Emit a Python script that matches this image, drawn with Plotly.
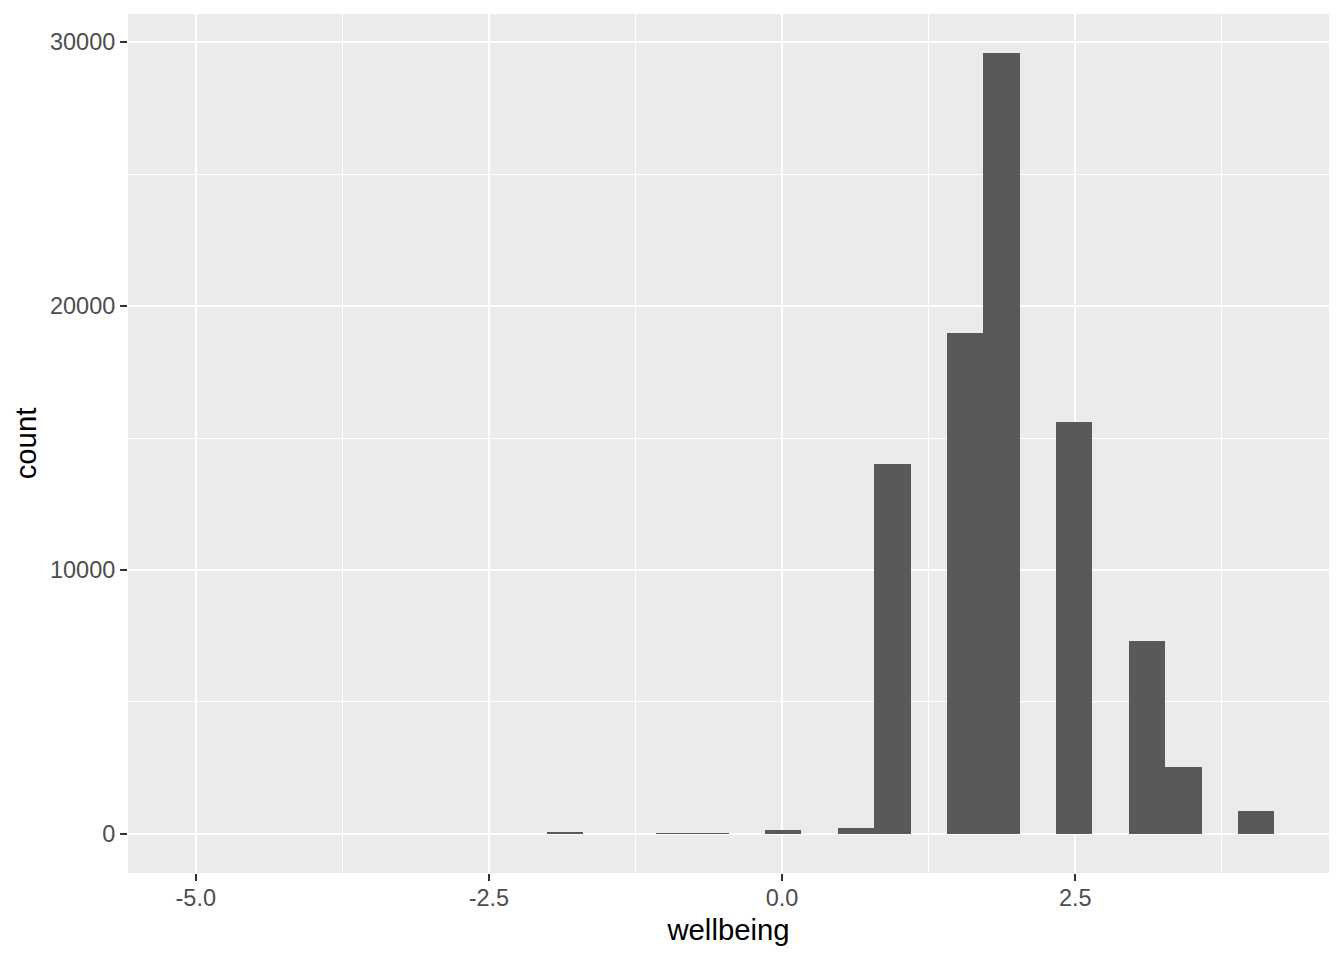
import plotly.graph_objects as go

# histogram of wellbeing: 30 bins, width 9/29
bin_width = 0.31034
bin_centers = [-1.853, -0.923, -0.612, 0.009, 0.629, 0.940,
               1.560, 1.871, 2.491, 3.112, 3.422, 4.043]
counts = [70, 30, 30, 140, 220, 14015,
          18977, 29583, 15606, 7322, 2550, 871]

x_ticks = [-5.0, -2.5, 0.0, 2.5]
x_tick_labels = ["-5.0", "-2.5", "0.0", "2.5"]
y_ticks = [0, 10000, 20000, 30000]
y_tick_labels = ["0", "10000", "20000", "30000"]

FONT = "Liberation Sans, Arial, sans-serif"

fig = go.Figure()
fig.add_trace(
    go.Bar(
        x=bin_centers,
        y=counts,
        width=[bin_width] * len(bin_centers),
        marker=dict(color="#595959", line=dict(width=0)),
        hoverinfo="x+y",
    )
)

# page body has an 8px margin, so the figure is a bit smaller than the window
fig.update_layout(
    width=1336,
    height=952,
    paper_bgcolor="white",
    plot_bgcolor="#EBEBEB",
    margin=dict(l=120, r=15, t=6, b=87),
    showlegend=False,
    bargap=0,
    font=dict(family=FONT),
)

fig.update_xaxes(
    range=[-5.578, 4.664],
    tickvals=x_ticks,
    ticktext=x_tick_labels,
    tickfont=dict(size=23.5, color="#4D4D4D", family=FONT),
    ticks="outside",
    ticklen=7,
    tickwidth=2,
    tickcolor="#333333",
    ticklabelstandoff=-3,
    showgrid=True,
    gridcolor="white",
    gridwidth=2.4,
    minor=dict(tickvals=[-3.75, -1.25, 1.25, 3.75], showgrid=True,
               gridcolor="white", gridwidth=1.2, ticks=""),
    zeroline=False,
    showline=False,
    automargin=False,
    title=dict(text="wellbeing", font=dict(size=29.3, color="black", family=FONT),
               standoff=9),
)

fig.update_yaxes(
    range=[-1480, 31063],
    tickvals=y_ticks,
    ticktext=y_tick_labels,
    tickfont=dict(size=23.5, color="#4D4D4D", family=FONT),
    ticks="outside",
    ticklen=7,
    tickwidth=2,
    tickcolor="#333333",
    showgrid=True,
    gridcolor="white",
    gridwidth=2.4,
    minor=dict(tickvals=[5000, 15000, 25000], showgrid=True,
               gridcolor="white", gridwidth=1.2, ticks=""),
    zeroline=False,
    showline=False,
    automargin=False,
    title=dict(text="count", font=dict(size=29.3, color="black", family=FONT),
               standoff=4),
)

fig.write_html("out.html")
